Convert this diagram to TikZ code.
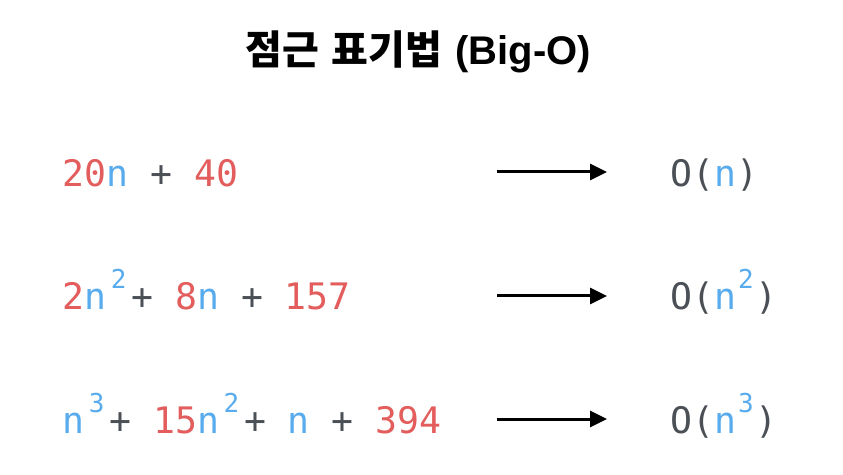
\documentclass[tikz,border=0pt]{standalone}
\usepackage{fontspec}
\setmonofont{DejaVu Sans Mono}
\newfontfamily\krfont{Noto Sans CJK KR}
\newfontfamily\titlefont{Liberation Sans}
\usetikzlibrary{arrows.meta}
\definecolor{termred}{HTML}{E35D5D}
\definecolor{termblue}{HTML}{58ACEE}
\definecolor{termgray}{HTML}{4B5056}
\newcommand{\rd}[1]{\textcolor{termred}{#1}}
\newcommand{\bl}[1]{\textcolor{termblue}{#1}}
% superscript in its own slot: #1 width, #2 digit
\newcommand{\pw}[2][25pt]{\makebox[#1][c]{\raisebox{21pt}{\fontsize{26}{26}\selectfont\color{termblue}#2}}}
\tikzset{
  expr/.style={anchor=base west, inner sep=0pt, text=termgray,
    font=\ttfamily\fontsize{36.5}{40}\selectfont},
  bigarrow/.style={line width=3pt, -{Triangle[length=17pt,width=16pt]}}
}
\begin{document}
\begin{tikzpicture}[x=1pt,y=1pt]
      \useasboundingbox[fill=white] (0,0) rectangle (843,474);
      \node[anchor=base, inner sep=0pt] (title) at (418,409)
        {\bfseries\krfont\fontsize{40}{44}\selectfont 점근\hspace{13pt}표기법\hspace{13pt}\titlefont(Big-O)};
      % left side
      \node[expr] (e1) at (62,287) {\rd{20}\bl{n} + \rd{40}};
      \node[expr] (e2) at (62,164) {\rd{2}\bl{n}\pw{2}+ \rd{8}\bl{n} + \rd{157}};
      \node[expr] (e3) at (62,41) {\bl{n}\pw{3}+ \rd{15}\bl{n}\pw{2}+ \bl{n} + \rd{394}};
      % right side
      \node[expr] (r1) at (670,287) {O(\bl{n})};
      \node[expr] (r2) at (670,164) {O(\bl{n}\pw[19.5pt]{2})};
      \node[expr] (r3) at (670,41) {O(\bl{n}\pw[19.5pt]{3})};
      \foreach \i/\y in {1/302,2/178,3/55}{
        \coordinate (s\i) at (497,\y);
        \coordinate (t\i) at (607,\y);
        \draw[bigarrow] (s\i) -- (t\i);
      }
    \end{tikzpicture}
\end{document}
